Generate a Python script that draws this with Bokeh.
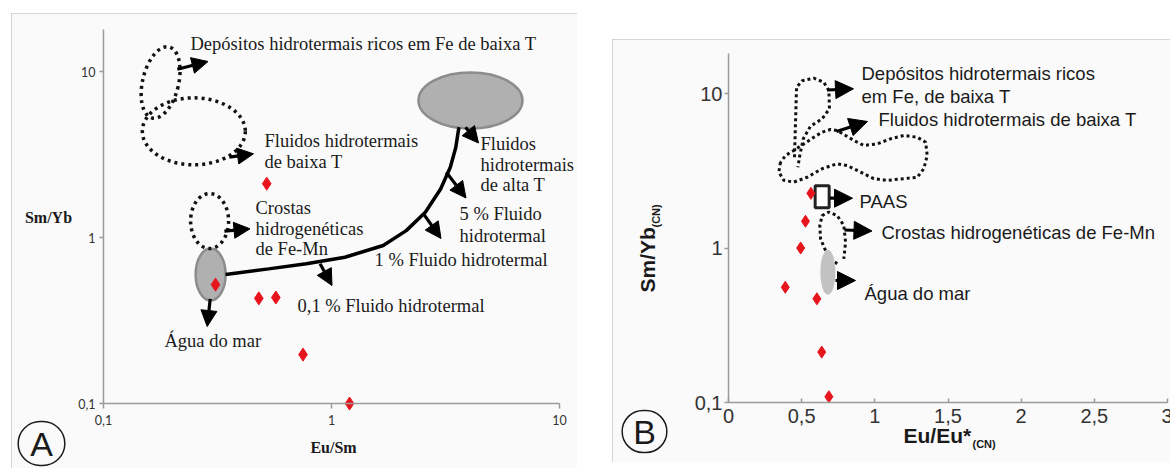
import math
from bokeh.plotting import figure
from bokeh.layouts import row
from bokeh.models import Range1d, FixedTicker, Label, Arrow, NormalHead
from bokeh.embed import file_html
from bokeh.resources import INLINE

# ================= DATA =================
# Panel A : Eu/Sm vs Sm/Yb (log-log)
a_x_ticks = [0.1, 1, 10]
a_x_tick_labels = ["0,1", "1", "10"]
a_y_ticks = [0.1, 1, 10]
a_y_tick_labels = ["0,1", "1", "10"]
a_samples_eusm = [0.52, 0.31, 0.48, 0.57, 0.75, 1.2]
a_samples_smyb = [2.11, 0.52, 0.43, 0.435, 0.197, 0.1]
# mixing curve seawater -> high-T hydrothermal fluid
a_mix_eusm = [0.343, 0.53, 0.776, 1.145, 1.686, 2.127, 2.58, 3.01, 3.32, 3.51, 3.62]
a_mix_smyb = [0.598, 0.647, 0.695, 0.76, 0.895, 1.10, 1.42, 1.96, 2.65, 3.50, 4.62]
# dotted fields (centres)
a_field_eusm = [0.178, 0.249, 0.292]
a_field_smyb = [8.59, 4.36, 1.256]
# grey end-member fields (centres): high-T fluids, seawater
a_end_eusm = [4.07, 0.295]
a_end_smyb = [6.69, 0.598]

# Panel B : Eu/Eu*(CN) vs Sm/Yb(CN)
b_x_ticks = [0, 0.5, 1, 1.5, 2, 2.5, 3]
b_x_tick_labels = ["0", "0,5", "1", "1,5", "2", "2,5", "3"]
b_y_ticks = [0.1, 1, 10]
b_y_tick_labels = ["0,1", "1", "10"]
b_samples_eueu = [0.563, 0.526, 0.493, 0.388, 0.604, 0.637, 0.686]
b_samples_smyb = [2.26, 1.49, 1.0, 0.557, 0.469, 0.212, 0.109]
b_paas_eueu = [0.64]
b_paas_smyb = [2.15]
b_sea_eueu = [0.679]
b_sea_smyb = [0.697]
b_dep_eueu = [0.451, 0.458, 0.465, 0.504, 0.583, 0.651, 0.686, 0.690, 0.640, 0.560, 0.511, 0.487, 0.474]
b_dep_smyb = [3.87, 6.52, 10.99, 12.1, 12.56, 11.83, 10.45, 7.96, 6.86, 6.14, 5.09, 3.97, 3.33]
b_flu_eueu = [0.355, 0.344, 0.378, 0.446, 0.538, 0.640, 0.743, 0.811, 0.902, 0.993, 1.085, 1.198,
              1.290, 1.335, 1.358, 1.347, 1.290, 1.198, 1.107, 1.016, 0.925, 0.856, 0.800, 0.743,
              0.697, 0.640, 0.583, 0.515, 0.446, 0.390, 0.355]
b_flu_smyb = [3.59, 3.10, 2.74, 2.67, 2.87, 3.26, 3.51, 3.42, 3.10, 2.81, 2.74, 2.81,
              2.87, 3.26, 3.97, 4.84, 5.21, 5.35, 5.09, 4.72, 4.61, 4.97, 5.35, 5.76,
              5.85, 5.62, 5.21, 4.72, 4.28, 3.97, 3.59]
b_cro_eueu = [0.743, 0.697, 0.663, 0.629, 0.624, 0.640, 0.686, 0.743, 0.788, 0.800, 0.788]
b_cro_smyb = [0.791, 0.851, 0.964, 1.148, 1.40, 1.62, 1.71, 1.62, 1.40, 1.09, 0.851]

# ================= STYLE / LAYOUT =================
BG = "#fafafa"
AXC = "#9a9a9a"
TXT = "#1a1a1a"
RED = "#e8141c"
FRAME = {"outline": "1.5px solid #b0b0b0", "outline-offset": "-1px"}

# Panel A geometry (page pixels)
A_LEFT, A_TOP, A_W, A_H = 11, 13, 566, 460
A_X0, A_X1 = 103, 559          # x = 0.1 .. 10
A_YB, A_DEC = 403, 166         # y = 0.1 at 403 px, 166 px per decade
A_YTOP = 29                    # top end of the y axis


def a_xy(px, py):
    x = 10 ** (-1 + 2 * (px - A_X0) / (A_X1 - A_X0))
    y = 10 ** (-1 + (A_YB - py) / A_DEC)
    return x, y


# Panel B geometry
B_LEFT, B_TOP, B_W, B_H = 612, 39, 560, 423
B_X0, B_X3 = 728, 1167         # x = 0 .. 3
B_PPU = (B_X3 - B_X0) / 3.0
B_YB, B_DEC = 402, 154.5
B_YTOP = 53


def b_xy(px, py):
    return (px - B_X0) / B_PPU, 10 ** (-1 + (B_YB - py) / B_DEC)


def lab(p, text, x, y, font, size, align="left", style="normal", angle=0.0, color=TXT, baseline="middle"):
    p.add_layout(Label(x=x, y=y, text=text, text_font=font, text_font_size=size,
                       text_align=align, text_baseline=baseline, text_font_style=style,
                       angle=angle, text_color=color))


def arrow(p, x0, y0, x1, y1, size):
    p.add_layout(Arrow(end=NormalHead(size=size, fill_color="black", line_color="black", line_width=1),
                       x_start=x0, y_start=y0, x_end=x1, y_end=y1,
                       line_width=3.2, line_color="black"))


def style_axes(p, font, size):
    for ax in (p.xaxis[0], p.yaxis[0]):
        ax.axis_line_width = 1.5
        ax.axis_line_color = AXC
        ax.major_tick_line_color = AXC
        ax.major_tick_line_width = 1.5
        ax.minor_tick_line_color = None
        ax.major_label_text_font = font
        ax.major_label_text_font_size = size
        ax.major_label_text_color = "#333333"


# ================= PANEL A =================
ax_lo, ay_lo = a_xy(A_LEFT, A_TOP + A_H)
ax_hi, ay_hi = a_xy(A_LEFT + A_W, A_TOP)
pA = figure(width=A_W, height=A_H, x_axis_type="log", y_axis_type="log",
            x_range=Range1d(ax_lo, ax_hi), y_range=Range1d(ay_lo, ay_hi),
            output_backend="svg", toolbar_location=None, min_border=0,
            background_fill_color=BG, border_fill_color=BG, outline_line_color=None)
pA.margin = (A_TOP, 0, 0, A_LEFT)
pA.styles = FRAME
pA.grid.visible = False

a_ytop = a_xy(A_X0, A_YTOP)[1]
pA.xaxis.fixed_location = 0.1
pA.xaxis.bounds = (0.1, 10)
pA.xaxis.ticker = FixedTicker(ticks=a_x_ticks, minor_ticks=[])
pA.xaxis.major_label_overrides = dict(zip(a_x_ticks, a_x_tick_labels))
pA.xaxis.major_tick_in = 0
pA.xaxis.major_tick_out = 5
pA.xaxis.major_label_standoff = 6
pA.yaxis.fixed_location = 0.1
pA.yaxis.bounds = (0.1, a_ytop)
pA.yaxis.ticker = FixedTicker(ticks=a_y_ticks, minor_ticks=[])
pA.yaxis.major_label_overrides = dict(zip(a_y_ticks, a_y_tick_labels))
pA.yaxis.major_tick_in = 0
pA.yaxis.major_tick_out = 4
pA.yaxis.major_label_standoff = 4
style_axes(pA, "Lato", "12.5px")

# grey end-member fields
pA.ellipse(x=a_end_eusm, y=a_end_smyb, width=[104, 30], height=[56, 52],
           width_units="screen", height_units="screen",
           fill_color="#b0b0b0", line_color="#8c8c8c", line_width=2.5)
# dotted fields
pA.ellipse(x=a_field_eusm, y=a_field_smyb, width=[36, 103, 38], height=[73, 67, 55],
           angle=[-0.235, 0, 0], width_units="screen", height_units="screen",
           fill_color=None, line_color="#111111", line_width=3.5, line_dash="3 4")
# mixing curve
pA.line(a_mix_eusm, a_mix_smyb, line_color="black", line_width=3.5)
# samples
pA.scatter(a_samples_eusm, a_samples_smyb, marker="diamond", size=13, fill_color=RED, line_color=RED)

for (x0, y0, x1, y1) in [(176.8, 68.8, 207.5, 61.0), (228.9, 156.7, 253.0, 153.3),
                         (223.9, 230.7, 249.5, 228.3), (209.7, 298.3, 206.7, 326.0),
                         (319.6, 263.3, 331.5, 285.0), (423.0, 213.3, 440.5, 238.0),
                         (445.8, 171.7, 465.5, 197.5), (465.0, 126.7, 478.0, 142.5)]:
    xs, ys = a_xy(x0, y0)
    xe, ye = a_xy(x1, y1)
    arrow(pA, xs, ys, xe, ye, 16)

SERIF = "Liberation Serif"
for (t, px, py) in [("Depósitos hidrotermais ricos em Fe de baixa T", 190, 43),
                    ("Fluidos hidrotermais", 264, 140), ("de baixa T", 264, 161),
                    ("Fluidos", 480, 143), ("hidrotermais", 480, 164), ("de alta T", 480, 184),
                    ("5 % Fluido", 459, 213), ("hidrotermal", 459, 235),
                    ("1 % Fluido hidrotermal", 374, 259),
                    ("Crostas", 255, 207), ("hidrogenéticas", 255, 228), ("de Fe-Mn", 255, 248),
                    ("0,1 % Fluido hidrotermal", 297, 305),
                    ("Água do mar", 164, 340)]:
    x, y = a_xy(px, py)
    lab(pA, t, x, y, SERIF, "18.5px")

x, y = a_xy(48, 217)
lab(pA, "Sm/Yb", x, y, SERIF, "16px", align="center", style="bold")
x, y = a_xy(333, 447)
lab(pA, "Eu/Sm", x, y, SERIF, "16px", align="center", style="bold")
x, y = a_xy(41, 443)
pA.add_layout(Label(x=x, y=y, text="A", text_font="Liberation Sans", text_font_size="34px",
                    text_align="center", text_baseline="middle", text_color=TXT,
                    border_line_color=TXT, border_line_width=1.5, border_radius=22,
                    padding=(12, 3)))

# ================= PANEL B =================
bx_lo, by_lo = b_xy(B_LEFT, B_TOP + B_H)
bx_hi, by_hi = b_xy(B_LEFT + B_W, B_TOP)
pB = figure(width=B_W, height=B_H, y_axis_type="log",
            x_range=Range1d(bx_lo, bx_hi), y_range=Range1d(by_lo, by_hi),
            output_backend="svg", toolbar_location=None, min_border=0,
            background_fill_color=BG, border_fill_color=BG, outline_line_color=None)
pB.margin = (B_TOP, 0, 0, B_LEFT - (A_LEFT + A_W))
pB.styles = FRAME
pB.grid.visible = False
b_ytop = b_xy(B_X0, B_YTOP)[1]
pB.xaxis.fixed_location = 0.1
pB.xaxis.bounds = (0, 3)
pB.xaxis.ticker = FixedTicker(ticks=b_x_ticks, minor_ticks=[])
pB.xaxis.major_label_overrides = dict(zip(b_x_ticks, b_x_tick_labels))
pB.xaxis.major_tick_in = 4
pB.xaxis.major_tick_out = 0
pB.xaxis.major_label_standoff = 6
pB.yaxis.fixed_location = 0
pB.yaxis.bounds = (0.1, b_ytop)
pB.yaxis.ticker = FixedTicker(ticks=b_y_ticks, minor_ticks=[])
pB.yaxis.major_label_overrides = dict(zip(b_y_ticks, b_y_tick_labels))
pB.yaxis.major_tick_in = 0
pB.yaxis.major_tick_out = 4
pB.yaxis.major_label_standoff = 2
style_axes(pB, "Liberation Sans", "20px")

pB.line(b_dep_eueu, b_dep_smyb, line_color="#111111", line_width=3, line_dash="3 3")
pB.line(b_flu_eueu, b_flu_smyb, line_color="#111111", line_width=3, line_dash="3 3")
pB.line(b_cro_eueu, b_cro_smyb, line_color="#111111", line_width=3, line_dash="3 3")
pB.ellipse(x=b_sea_eueu, y=b_sea_smyb, width=15, height=45, width_units="screen",
           height_units="screen", fill_color="#c2c2c2", line_color=None)
pB.rect(x=b_paas_eueu, y=b_paas_smyb, width=14, height=22, width_units="screen",
        height_units="screen", fill_color="white", line_color="#222222", line_width=3)
pB.scatter(b_samples_eueu, b_samples_smyb, marker="diamond", size=12, fill_color=RED, line_color=RED)

for (x0, y0, x1, y1) in [(826.5, 89.5, 853.0, 88.3), (836.0, 131.0, 867.0, 121.0),
                         (829.5, 197.7, 852.0, 197.7), (844.0, 229.5, 871.5, 230.5),
                         (835.0, 280.0, 855.0, 280.0)]:
    xs, ys = b_xy(x0, y0)
    xe, ye = b_xy(x1, y1)
    arrow(pB, xs, ys, xe, ye, 18)

SANS = "Liberation Sans"
for (t, px, py) in [("Depósitos hidrotermais ricos", 861, 73), ("em Fe, de baixa T", 861, 96),
                    ("Fluidos hidrotermais de baixa T", 878, 119),
                    ("PAAS", 859, 201),
                    ("Crostas hidrogenéticas de Fe-Mn", 881, 232),
                    ("Água do mar", 864, 293)]:
    x, y = b_xy(px, py)
    lab(pB, t, x, y, SANS, "18.5px")

x, y = b_xy(647, 292)
lab(pB, "Sm/Yb", x, y, SANS, "21px", style="bold", angle=math.pi / 2)
x, y = b_xy(655, 227)
lab(pB, "(CN)", x, y, SANS, "11px", style="bold", angle=math.pi / 2)
x, y = b_xy(903, 435)
lab(pB, "Eu/Eu*", x, y, SANS, "21px", style="bold")
x, y = b_xy(972, 443)
lab(pB, "(CN)", x, y, SANS, "11px", style="bold")
x, y = b_xy(644, 431)
pB.add_layout(Label(x=x, y=y, text="B", text_font="Liberation Sans", text_font_size="34px",
                    text_align="center", text_baseline="middle", text_color=TXT,
                    border_line_color=TXT, border_line_width=1.5, border_radius=21,
                    padding=(11, 2)))

layout = row(pA, pB)
open("out.html", "w").write(file_html(layout, INLINE))
